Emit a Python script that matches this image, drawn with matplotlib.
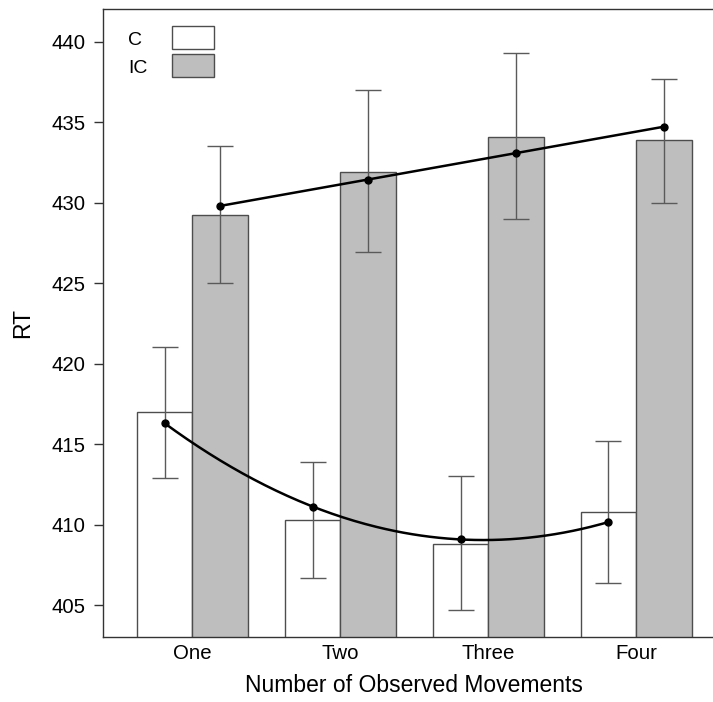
# Bar chart of RT by number of observed movements, C vs IC, with fitted trends

import matplotlib
matplotlib.use('Agg')
import matplotlib.pyplot as plt
from matplotlib.patches import Rectangle
import numpy as np

# Data
groups = ['One', 'Two', 'Three', 'Four']
c_mean = [417.0, 410.3, 408.8, 410.8]
c_lo = [412.9, 406.7, 404.7, 406.4]
c_hi = [421.0, 413.9, 413.0, 415.2]
ic_mean = [429.2, 431.9, 434.1, 433.9]
ic_lo = [425.0, 426.9, 429.0, 430.0]
ic_hi = [433.5, 437.0, 439.3, 437.7]
# model predictions (black dots)
c_fit = [416.3, 411.1, 409.1, 410.15]
ic_fit = [429.8, 431.4, 433.1, 434.7]
series = ['C', 'IC']
fills = ['white', '#bebebe']

plt.rcParams['font.family'] = ['Liberation Sans', 'DejaVu Sans']

fig = plt.figure(figsize=(7.13, 7.02), dpi=100)
ax = fig.add_axes([103.3 / 713, 1 - 637.3 / 702, 621.7 / 713, 628 / 702])

x = np.arange(1, len(groups) + 1)
w = 0.375
xc = x - w / 2
xi = x + w / 2

edge = '#4d4d4d'
ax.bar(xc, c_mean, width=w, color=fills[0], edgecolor=edge, linewidth=1.0, zorder=2)
ax.bar(xi, ic_mean, width=w, color=fills[1], edgecolor=edge, linewidth=1.0, zorder=2)

# error bars
for xs, m, lo, hi in [(xc, c_mean, c_lo, c_hi), (xi, ic_mean, ic_lo, ic_hi)]:
    m = np.array(m)
    yerr = [m - np.array(lo), np.array(hi) - m]
    ax.errorbar(xs, m, yerr=yerr, fmt='none', ecolor='#5a5a5a', elinewidth=1.0,
                capsize=9.4, capthick=1.0, zorder=3)

# fitted trend curves through the predictions
for xs, f in [(xc, c_fit), (xi, ic_fit)]:
    coef = np.polyfit(xs, f, 2)
    xx = np.linspace(xs[0], xs[-1], 200)
    ax.plot(xx, np.polyval(coef, xx), color='black', linewidth=1.8, zorder=4)
    ax.plot(xs, f, 'o', color='black', markersize=5, zorder=5)

ax.set_xlim(0.398, 4.6)
ax.set_ylim(403.0, 442.0)
ax.set_yticks(np.arange(405, 441, 5))
ax.set_xticks(x)
ax.set_xticklabels(groups)

ax.tick_params(axis='y', length=6.5, width=1.0, pad=6.5, labelsize=14.7, color='#333333')
ax.tick_params(axis='x', length=0, pad=4.5, labelsize=14.7)
for s in ax.spines.values():
    s.set_color('#333333')
    s.set_linewidth(1.0)

ax.set_xlabel('Number of Observed Movements', fontsize=16.5, labelpad=8)
ax.set_ylabel('RT', fontsize=16.5, labelpad=12)

# legend: label on the left, box on the right (drawn by hand)
text_y = [0.9432, 0.8981]
box_y = [0.9363, 0.8917]
for name, fc, ty, by in zip(series, fills, text_y, box_y):
    ax.text(0.0397, ty, name, transform=ax.transAxes, fontsize=14,
            ha='left', va='baseline')
    ax.add_patch(Rectangle((0.1105, by), 0.0671, 0.0378, transform=ax.transAxes,
                           facecolor=fc, edgecolor=edge, linewidth=1.0, zorder=6))

plt.savefig('out.png', dpi=100)
plt.close()
